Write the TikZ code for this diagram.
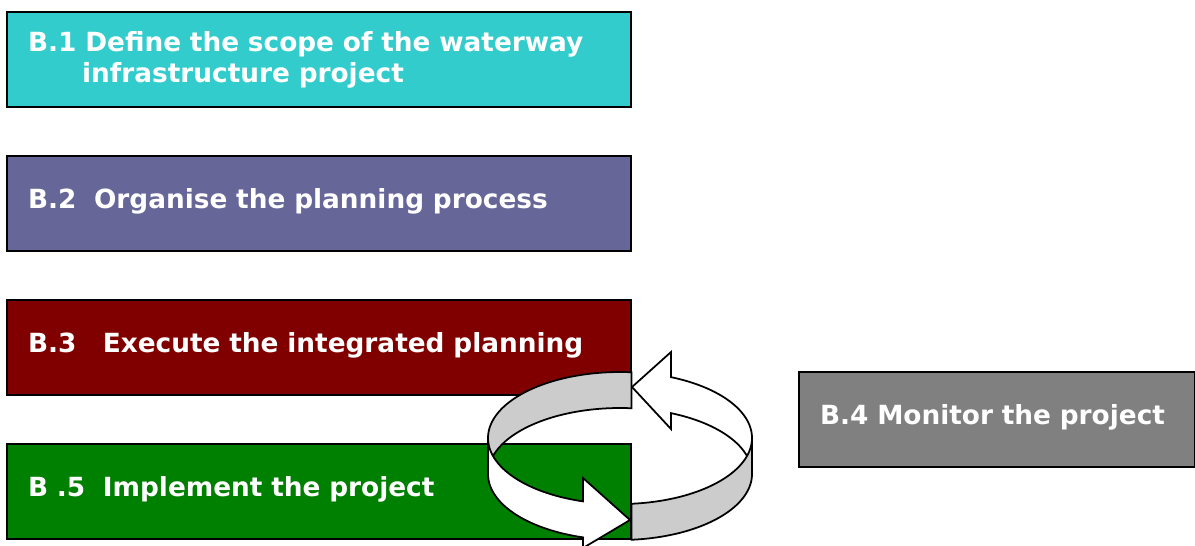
\documentclass[tikz,border=0pt]{standalone}
\usepackage{fontspec}
\setmainfont{DejaVu Sans}
\usetikzlibrary{positioning}

\definecolor{scopecol}{HTML}{33CCCC}
\definecolor{organisecol}{HTML}{666699}
\definecolor{executecol}{HTML}{800000}
\definecolor{implementcol}{HTML}{008000}
\definecolor{monitorcol}{HTML}{808080}
\definecolor{ringgray}{HTML}{CCCCCC}

\tikzset{
  stagebox/.style={draw=black, line width=0.9pt, text=white, anchor=center,
    minimum width=12.48cm, minimum height=1.9cm, text width=11.64cm,
    inner xsep=0.42cm, align=left, font=\fontsize{15}{17.6}\selectfont\bfseries},
  oneline/.style={text height=0.35cm, text depth=0.15cm},
  ringpart/.style={draw=black, line width=1pt, line join=miter, samples=60}
}

\begin{document}
\begin{tikzpicture}[x=0.02cm, y=-0.02cm]
    \useasboundingbox (0,0) rectangle (1195,545);

    % stages on the left
    \node[stagebox, fill=scopecol] (scope) at (319,59.5)
        {B.1 Define the scope of the waterway\\\hspace*{1.08cm}infrastructure project};
    \node[stagebox, oneline, fill=organisecol, below=0.95cm of scope] (organise) {B.2\ \ Organise the planning process};
    \node[stagebox, oneline, fill=executecol, below=0.95cm of organise] (execute) {B.3\ \ \ Execute the integrated planning};
    \node[stagebox, oneline, fill=implementcol, below=0.95cm of execute] (implement) {B .5\ \ Implement the project};

    % monitoring on the right
    \node[stagebox, oneline, fill=monitorcol, minimum width=7.92cm, text width=7.08cm] (monitor) at (997,419.5)
        {B.4 Monitor the project};

    % the ring of arrows
    \filldraw[ringpart, fill=ringgray]
        plot[domain=85:180] ({620+132*cos(\x)},{438-66*sin(\x)})
        -- plot[domain=180:85] ({620+132*cos(\x)},{474-66*sin(\x)}) -- cycle;
    \filldraw[ringpart, fill=white]
        plot[domain=180:253.7] ({620+132*cos(\x)},{438-66*sin(\x)})
        -- (583,478) -- (630,520) -- (583,548)
        -- plot[domain=253.7:180] ({620+132*cos(\x)},{474-66*sin(\x)}) -- cycle;
    \filldraw[ringpart, fill=white]
        plot[domain=67.3:0] ({620+132*cos(\x)},{438-66*sin(\x)})
        -- plot[domain=0:67.3] ({620+132*cos(\x)},{474-66*sin(\x)})
        -- (671,429) -- (632,387) -- (671,352) -- cycle;
    \filldraw[ringpart, fill=ringgray]
        plot[domain=-85:0] ({620+132*cos(\x)},{438-66*sin(\x)})
        -- plot[domain=0:-85] ({620+132*cos(\x)},{474-66*sin(\x)}) -- cycle;

\end{tikzpicture}
\end{document}
